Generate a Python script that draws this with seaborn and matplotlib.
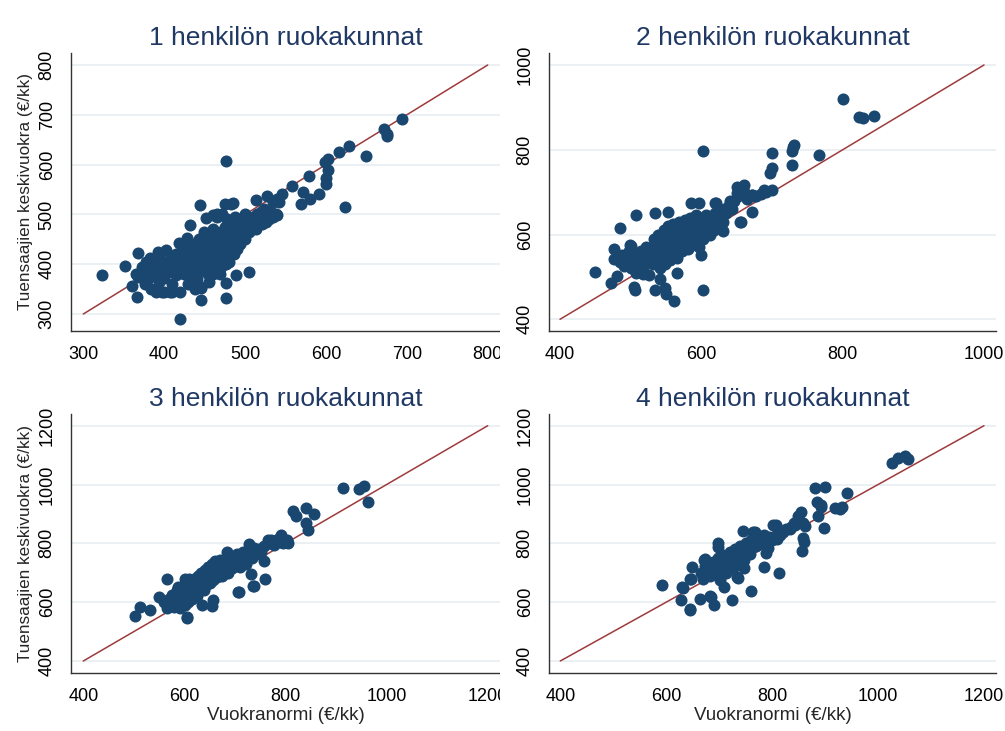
import matplotlib.pyplot as plt
import seaborn as sns
import pandas as pd
from matplotlib.patches import Rectangle

# ----------------------------
# data
# ----------------------------
titles = ["1 henkilön ruokakunnat", "2 henkilön ruokakunnat",
          "3 henkilön ruokakunnat", "4 henkilön ruokakunnat"]

xlabel = "Vuokranormi (€/kk)"
ylabel = "Tuensaajien keskivuokra (€/kk)"

ticks_1 = [300, 400, 500, 600, 700, 800]
ticks_2 = [400, 600, 800, 1000]
ticks_34 = [400, 600, 800, 1000, 1200]

diag_1 = [300, 800]
diag_2 = [400, 1000]
diag_34 = [400, 1200]

pts_1 = [
    (323, 378), (351, 396), (360, 356), (366, 335), (368, 422), (420, 289),
    (444, 519), (477, 608), (477, 333), (477, 362), (445, 329), (445, 352),
    (438, 350), (420, 345), (489, 378), (505, 385), (485, 522), (513, 529),
    (540, 499), (527, 537), (546, 541), (558, 557), (572, 544), (569, 521),
    (580, 531), (579, 577), (592, 540), (599, 606), (602, 611), (600, 562),
    (600, 574), (602, 589), (616, 626), (628, 637), (624, 514), (649, 617),
    (672, 671), (675, 661), (675, 657), (694, 691),
    (452, 493), (460, 499), (432, 479), (475, 521), (465, 500),
    (372, 395), (375, 385), (378, 405), (380, 370), (382, 412), (385, 390),
    (388, 380), (390, 400), (392, 425), (393, 365), (395, 410), (397, 345),
    (398, 388), (400, 372), (402, 428), (403, 398), (405, 385), (407, 345),
    (408, 415), (410, 405), (410, 360), (412, 392), (414, 420), (415, 378),
    (417, 400), (418, 442), (420, 388), (421, 410), (423, 395), (424, 430),
    (425, 380), (427, 415), (428, 452), (430, 400), (431, 388), (432, 425),
    (434, 405), (435, 440), (436, 370), (437, 418), (438, 396), (440, 430),
    (441, 410), (442, 385), (443, 450), (444, 400), (445, 420), (446, 355),
    (447, 440), (448, 410), (449, 465), (450, 395), (451, 430), (452, 445),
    (453, 415), (454, 380), (455, 425), (456, 460), (457, 405), (458, 440),
    (459, 390), (460, 470), (461, 420), (462, 450), (463, 400), (464, 435),
    (465, 495), (466, 455), (467, 415), (468, 440), (469, 380), (470, 465),
    (471, 430), (472, 500), (473, 450), (474, 420), (475, 475), (476, 440),
    (477, 400), (478, 490), (479, 455), (480, 430), (481, 470), (482, 520),
    (483, 445), (484, 485), (485, 460), (486, 420), (487, 470), (488, 495),
    (489, 450), (490, 480), (492, 465), (494, 440), (495, 490), (496, 470),
    (498, 455), (500, 500), (501, 475), (503, 485), (505, 465), (506, 490),
    (508, 470), (510, 495), (512, 480), (513, 470), (515, 500), (516, 485),
    (518, 490), (520, 505), (521, 480), (523, 510), (524, 495), (526, 485),
    (528, 500), (530, 490), (532, 505), (534, 495), (535, 525), (538, 500),
    (540, 530), (542, 525),
    (365, 380), (368, 375), (376, 360), (384, 350), (390, 345), (400, 345),
    (410, 345), (430, 360), (440, 370), (455, 365), (460, 380), (470, 395),
    (480, 405), (490, 430), (500, 450),
]

pts_2 = [
    (800, 920), (823, 878), (829, 875), (844, 879), (603, 796), (700, 792),
    (767, 788), (730, 807), (731, 811), (729, 796), (729, 765), (700, 758),
    (697, 746), (700, 704), (660, 716), (650, 712), (650, 698), (688, 704),
    (671, 694), (678, 690), (671, 654), (656, 629), (641, 678), (621, 675),
    (631, 608), (586, 674), (597, 675), (534, 650), (553, 652), (508, 645),
    (485, 615), (477, 565), (500, 573), (449, 511), (472, 485), (480, 502),
    (505, 477), (506, 469), (534, 469), (549, 474), (561, 444), (602, 468),
    (541, 496), (518, 506), (566, 510), (600, 551), (477, 542), (499, 575),
    (550, 460), (619, 675), (659, 713), (671, 693), (654, 630),
    (480, 545), (485, 535), (488, 552), (490, 525), (492, 540), (495, 530),
    (497, 560), (500, 520), (502, 545), (504, 535), (506, 555), (508, 510),
    (510, 540), (512, 528), (514, 560), (516, 545), (518, 520), (520, 535),
    (521, 570), (523, 550), (525, 540), (526, 505), (528, 565), (530, 548),
    (531, 530), (533, 590), (534, 560), (536, 575), (537, 540), (539, 600),
    (540, 555), (541, 520), (543, 585), (544, 565), (545, 545), (547, 610),
    (548, 575), (549, 530), (550, 595), (551, 560), (553, 620), (554, 585),
    (555, 540), (556, 570), (557, 605), (558, 550), (559, 590), (560, 625),
    (561, 575), (562, 560), (563, 605), (564, 585), (565, 545), (566, 615),
    (567, 595), (568, 570), (569, 630), (570, 600), (571, 580), (572, 560),
    (574, 615), (575, 595), (576, 575), (577, 635), (578, 605), (579, 585),
    (580, 620), (581, 565), (582, 600), (584, 640), (585, 610), (586, 590),
    (587, 575), (588, 625), (590, 605), (591, 580), (592, 645), (593, 615),
    (594, 595), (595, 630), (596, 570), (597, 610), (598, 600), (600, 640),
    (601, 620), (602, 590), (604, 625), (605, 605), (607, 645), (608, 615),
    (610, 630), (612, 600), (614, 640), (616, 620), (618, 610), (620, 650),
    (622, 635), (624, 620), (626, 655), (628, 640), (630, 630), (632, 660),
    (635, 650), (638, 665), (640, 675), (643, 660), (646, 680), (652, 690),
    (660, 700), (665, 685), (675, 690), (685, 695), (692, 700),
]

pts_3 = [
    (502, 554), (512, 585), (531, 573), (549, 619), (565, 678), (588, 653),
    (601, 678), (610, 678), (606, 548), (634, 590), (655, 587), (657, 607),
    (685, 772), (728, 798), (709, 636), (738, 655), (760, 679), (757, 741),
    (731, 696), (913, 987), (946, 985), (955, 996), (963, 939), (814, 911),
    (821, 893), (840, 921), (856, 900), (841, 868), (845, 845), (765, 811),
    (791, 828), (804, 800), (605, 545), (736, 656), (707, 636),
    (560, 600), (565, 580), (570, 610), (572, 590), (575, 625), (578, 600),
    (580, 585), (583, 615), (585, 640), (588, 600), (590, 620), (592, 580),
    (595, 645), (597, 610), (600, 630), (601, 590), (603, 655), (605, 615),
    (607, 600), (609, 640), (611, 665), (613, 625), (615, 610), (617, 650),
    (619, 680), (620, 635), (622, 660), (624, 620), (626, 690), (628, 645),
    (630, 670), (632, 700), (634, 655), (636, 685), (638, 640), (640, 710),
    (641, 675), (643, 660), (645, 695), (647, 720), (648, 680), (650, 665),
    (652, 705), (654, 730), (655, 690), (657, 675), (659, 715), (661, 740),
    (662, 700), (664, 685), (666, 725), (668, 700), (670, 745), (672, 715),
    (674, 690), (676, 730), (678, 705), (680, 740), (683, 720), (686, 700),
    (689, 735), (692, 755), (695, 715), (698, 745), (701, 730), (704, 765),
    (707, 740), (710, 720), (713, 755), (716, 770), (719, 745), (722, 730),
    (726, 760), (730, 775), (734, 750), (738, 785), (742, 765), (747, 780),
    (752, 770), (758, 790), (765, 800), (772, 810), (778, 795), (785, 815),
    (790, 805), (796, 800), (802, 810),
]

pts_4 = [
    (592, 659), (627, 607), (645, 573), (644, 578), (648, 721), (664, 612),
    (685, 618), (690, 591), (725, 608), (761, 637), (784, 718), (813, 698),
    (856, 775), (859, 817), (860, 806), (898, 852), (881, 987), (900, 990),
    (941, 972), (1026, 1074), (1038, 1089), (1051, 1097), (1057, 1086),
    (919, 919), (928, 916), (931, 922), (885, 941), (892, 930), (893, 924),
    (887, 893), (863, 859), (855, 907), (849, 894), (745, 841), (768, 837),
    (698, 801), (698, 787), (673, 746), (674, 723), (647, 679), (631, 649),
    (746, 715), (733, 686), (736, 683), (702, 674), (710, 652), (808, 864),
    (801, 861), (788, 806), (810, 818), (788, 766), (793, 783), (771, 823),
    (784, 829), (834, 848), (844, 862), (629, 653), (672, 743), (645, 678),
    (683, 621), (764, 838),
    (665, 700), (670, 680), (675, 720), (680, 700), (683, 690), (688, 735),
    (690, 715), (695, 700), (698, 750), (700, 725), (702, 740), (705, 710),
    (708, 760), (710, 735), (712, 700), (715, 750), (717, 725), (720, 770),
    (722, 740), (725, 755), (727, 715), (730, 780), (732, 750), (735, 765),
    (737, 735), (740, 790), (742, 760), (745, 775), (747, 745), (750, 800),
    (752, 780), (755, 790), (758, 765), (760, 810), (763, 795), (766, 805),
    (770, 790), (773, 815), (776, 800), (780, 820), (783, 805), (786, 795),
    (790, 815), (795, 820), (800, 810), (805, 825), (810, 815), (815, 830),
    (820, 840), (827, 850), (835, 855), (842, 870), (850, 880), (858, 870),
]

# ----------------------------
# style
# ----------------------------
sns.set_style("white")
plt.rcParams["font.family"] = ["Liberation Sans", "DejaVu Sans"]

navy = "#1a476f"
red = "#9e3a3c"
grid = "#e6eef1"
axis_col = "#333333"
title_col = "#1f3864"

W, H = 1005, 731
fig = plt.figure(figsize=(W / 100, H / 100), dpi=100)


def box(l, t, r, b):
    # pixel box -> figure fraction
    return [l / W, 1 - b / H, (r - l) / W, (b - t) / H]


panels = [
    dict(pos=box(71, 53, 500, 331), pts=pts_1, ticks=ticks_1, diag=diag_1,
         xlim=(284.8, 815.2), ylim=(265.9, 824.1), ylab=True, xlab=False),
    dict(pos=box(549, 53, 996, 331), pts=pts_2, ticks=ticks_2, diag=diag_2,
         xlim=(384.4, 1017.0), ylim=(372.4, 1028.3), ylab=False, xlab=False),
    dict(pos=box(71, 414, 500, 673), pts=pts_3, ticks=ticks_34, diag=diag_34,
         xlim=(375.7, 1224.3), ylim=(359.2, 1239.8), ylab=True, xlab=True),
    dict(pos=box(549, 414, 996, 673), pts=pts_4, ticks=ticks_34, diag=diag_34,
         xlim=(378.7, 1222.7), ylim=(359.2, 1239.8), ylab=False, xlab=True),
]

for i, p in enumerate(panels):
    ax = fig.add_axes(p["pos"])
    if i % 2 == 1:
        ax.set_zorder(3)

    df = pd.DataFrame(p["pts"], columns=["normi", "vuokra"])

    for t in p["ticks"]:
        ax.axhline(t, color=grid, lw=1.2, zorder=0)

    sns.lineplot(x=p["diag"], y=p["diag"], color=red, lw=1.1, ax=ax, zorder=2)
    sns.scatterplot(data=df, x="normi", y="vuokra", color=navy, s=75,
                    linewidth=0, alpha=1, ax=ax, zorder=3)

    ax.set_xlim(p["xlim"])
    ax.set_ylim(p["ylim"])
    ax.set_xticks(p["ticks"])
    ax.set_yticks(p["ticks"])

    sns.despine(ax=ax)
    for s in ["left", "bottom"]:
        ax.spines[s].set_color(axis_col)
        ax.spines[s].set_linewidth(1.0)

    ax.tick_params(axis="both", direction="out", length=4, width=0.8,
                   color=axis_col, labelsize=13, pad=7, labelcolor="black")
    ax.tick_params(axis="y", labelrotation=90)
    for lab in ax.get_yticklabels():
        lab.set_va("center")

    ax.set_title(titles[i], fontsize=19, color=title_col, pad=6)
    ax.set_xlabel(xlabel if p["xlab"] else "", fontsize=13.5, labelpad=1)
    ax.set_ylabel(ylabel if p["ylab"] else "", fontsize=12.3, labelpad=4)

# right-hand panels overlap the left ones, as in the original layout
fig.patches.append(Rectangle((500 / W, 0), 1 - 500 / W, 1,
                             transform=fig.transFigure, facecolor="white",
                             edgecolor="none", zorder=2))

fig.savefig("out.png", dpi=100)
plt.close(fig)
